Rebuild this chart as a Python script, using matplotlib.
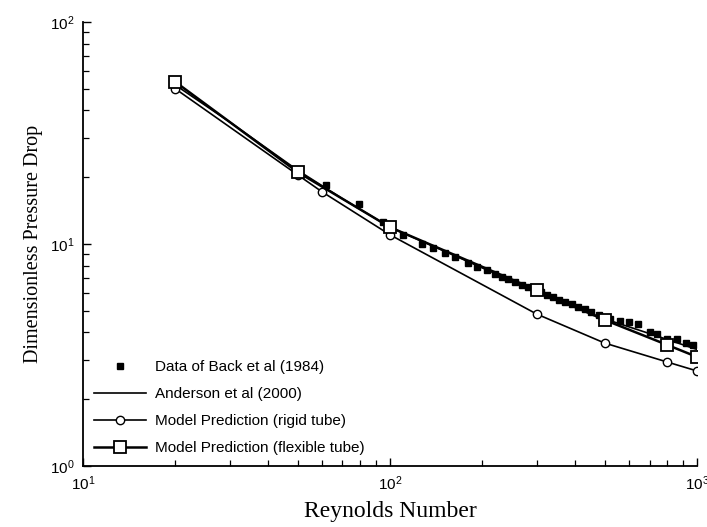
#!/usr/bin/env python3
"""Dimensionless pressure drop vs Reynolds number: model vs literature data."""
import matplotlib
matplotlib.use("Agg")
import matplotlib.pyplot as plt
from matplotlib.ticker import LogLocator, NullFormatter

plt.rcParams["font.family"] = ["Liberation Sans", "DejaVu Sans"]
plt.rcParams["mathtext.default"] = "regular"

# Experimental data (Back et al, 1984)
back_re = [62, 79, 95, 110, 127, 138, 151, 163, 180, 192, 207, 220, 232, 242,
           255, 269, 281, 295, 310, 325, 340, 355, 372, 390, 410, 430, 450,
           480, 520, 560, 600, 640, 700, 740, 800, 860, 920, 970]
back_dp = [18.5, 15.1, 12.6, 11.0, 10.0, 9.6, 9.1, 8.7, 8.2, 7.9, 7.6, 7.35,
           7.1, 6.95, 6.75, 6.55, 6.4, 6.2, 6.05, 5.9, 5.75, 5.6, 5.5, 5.35,
           5.2, 5.1, 4.95, 4.8, 4.6, 4.5, 4.45, 4.35, 4.0, 3.95, 3.75, 3.75,
           3.6, 3.5]

# Correlation of Anderson et al (2000)
anderson_re = [20, 30, 50, 70, 100, 150, 200, 300, 500, 700, 1000]
anderson_dp = [52, 35.5, 21.5, 16.0, 11.9, 9.3, 7.8, 6.1, 4.6, 3.95, 3.35]

# Model prediction, rigid tube
rigid_re = [20, 50, 60, 100, 300, 500, 800, 1000]
rigid_dp = [50, 20.5, 17.2, 11.0, 4.84, 3.58, 2.94, 2.68]

# Model prediction, flexible tube
flex_re = [20, 50, 100, 300, 500, 800, 1000]
flex_dp = [53.7, 21.1, 11.9, 6.2, 4.55, 3.51, 3.10]

fig = plt.figure(figsize=(7.07, 5.27), dpi=100)
ax = fig.add_axes([0.1174, 0.1157, 0.8686, 0.8425])

ax.plot(back_re, back_dp, "s", color="black", markersize=5, linestyle="none",
        label="Data of Back et al (1984)")
ax.plot(anderson_re, anderson_dp, "-", color="black", linewidth=1.2,
        label="Anderson et al (2000)")
ax.plot(rigid_re, rigid_dp, "-o", color="black", linewidth=1.2, markersize=6,
        markerfacecolor="white", markeredgewidth=1.0,
        label="Model Prediction (rigid tube)")
ax.plot(flex_re, flex_dp, "-s", color="black", linewidth=1.8, markersize=8,
        markerfacecolor="white", markeredgewidth=1.3,
        label="Model Prediction (flexible tube)")

ax.set_xscale("log")
ax.set_yscale("log")
ax.set_xlim(10, 1000)
ax.set_ylim(1, 100)

for side in ("top", "right"):
    ax.spines[side].set_visible(False)
for side in ("left", "bottom"):
    ax.spines[side].set_linewidth(1.3)

ax.xaxis.set_minor_locator(LogLocator(base=10, subs=range(2, 10)))
ax.yaxis.set_minor_locator(LogLocator(base=10, subs=range(2, 10)))
ax.xaxis.set_minor_formatter(NullFormatter())
ax.yaxis.set_minor_formatter(NullFormatter())
ax.tick_params(which="major", direction="in", length=6, width=1.0,
               labelsize=11, pad=6)
ax.tick_params(which="minor", direction="in", length=4, width=0.9)

ax.set_xlabel("Reynolds Number", family="Liberation Serif", fontsize=17,
              labelpad=6)
ax.set_ylabel("Dimensionless Pressure Drop", family="Liberation Serif",
              fontsize=14.5, labelpad=5)

ax.legend(loc="lower left", bbox_to_anchor=(0.0, 0.0), frameon=False,
          fontsize=11, handlelength=3.4, handletextpad=0.6, labelspacing=0.85,
          borderaxespad=0.3)

fig.savefig("out.png", dpi=100)
